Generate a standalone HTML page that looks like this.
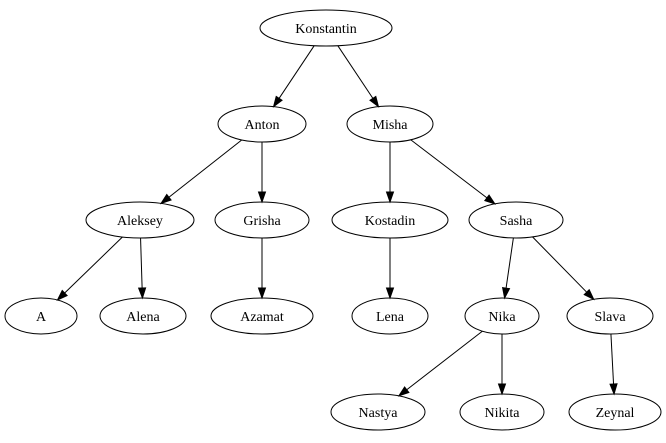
<!DOCTYPE html>
<html><head><meta charset="utf-8"><style>
html,body{margin:0;padding:0;background:#fff;}
svg{display:block;}
text{font-family:"Liberation Serif",serif;font-size:14px;fill:#000;}
</style></head><body>
<svg id="s" width="666" height="443" viewBox="0 0 666 443" xmlns="http://www.w3.org/2000/svg">
<g id="edges" stroke="#000" stroke-width="1" fill="#000"></g>
<g fill="none" stroke="#000" stroke-width="1">
<ellipse cx="326" cy="28" rx="66" ry="18"/>
<ellipse cx="262" cy="124" rx="44" ry="18"/>
<ellipse cx="390" cy="124" rx="43" ry="18"/>
<ellipse cx="140" cy="220" rx="54" ry="18"/>
<ellipse cx="262" cy="220" rx="47" ry="18"/>
<ellipse cx="390" cy="220" rx="58" ry="18"/>
<ellipse cx="516" cy="220" rx="47" ry="18"/>
<ellipse cx="41" cy="316" rx="36" ry="18"/>
<ellipse cx="143" cy="316" rx="43" ry="18"/>
<ellipse cx="262" cy="316" rx="51" ry="18"/>
<ellipse cx="390" cy="316" rx="38" ry="18"/>
<ellipse cx="502" cy="316" rx="37" ry="18"/>
<ellipse cx="610" cy="316" rx="43" ry="18"/>
<ellipse cx="378" cy="412" rx="47" ry="18"/>
<ellipse cx="502" cy="412" rx="42" ry="18"/>
<ellipse cx="615" cy="412" rx="46" ry="18"/>
</g>
<g text-anchor="middle">
<text x="326" y="33">Konstantin</text>
<text x="262" y="129">Anton</text>
<text x="390" y="129">Misha</text>
<text x="140" y="225">Aleksey</text>
<text x="262" y="225">Grisha</text>
<text x="390" y="225">Kostadin</text>
<text x="516" y="225">Sasha</text>
<text x="41" y="321">A</text>
<text x="143" y="321">Alena</text>
<text x="262" y="321">Azamat</text>
<text x="390" y="321">Lena</text>
<text x="502" y="321">Nika</text>
<text x="610" y="321">Slava</text>
<text x="378" y="417">Nastya</text>
<text x="502" y="417">Nikita</text>
<text x="615" y="417">Zeynal</text>
</g>
</svg>
<script>
var N={K:[326,28,66],An:[262,124,44],M:[390,124,43],Al:[140,220,54],G:[262,220,47],Ko:[390,220,58],S:[516,220,47],
A:[41,316,36],Ale:[143,316,43],Az:[262,316,51],L:[390,316,38],Ni:[502,316,37],Sl:[610,316,43],Na:[378,412,47],Nk:[502,412,42],Z:[615,412,46]};
var E=[["K","An"],["K","M"],["An","Al"],["An","G"],["M","Ko"],["M","S"],["Al","A"],["Al","Ale"],["G","Az"],["Ko","L"],["S","Ni"],["S","Sl"],["Ni","Na"],["Ni","Nk"],["Sl","Z"]];
function bd(n,dx,dy){var rx=n[2],ry=18;var t=1/Math.sqrt(dx*dx/(rx*rx)+dy*dy/(ry*ry));return [n[0]+dx*t,n[1]+dy*t];}
var g=document.getElementById('edges'),h='';
E.forEach(function(e){var a=N[e[0]],b=N[e[1]];var dx=b[0]-a[0],dy=b[1]-a[1];
var p=bd(a,dx,dy),q=bd(b,-dx,-dy);var L=Math.hypot(q[0]-p[0],q[1]-p[1]);var ux=(q[0]-p[0])/L,uy=(q[1]-p[1])/L;
var bx=q[0]-ux*10,by=q[1]-uy*10;var px=-uy*3.5,py=ux*3.5;
h+='<line x1="'+p[0]+'" y1="'+p[1]+'" x2="'+bx+'" y2="'+by+'"/>';
h+='<polygon points="'+q[0]+','+q[1]+' '+(bx+px)+','+(by+py)+' '+(bx-px)+','+(by-py)+'"/>';});
g.innerHTML=h;
</script>
</body></html>
